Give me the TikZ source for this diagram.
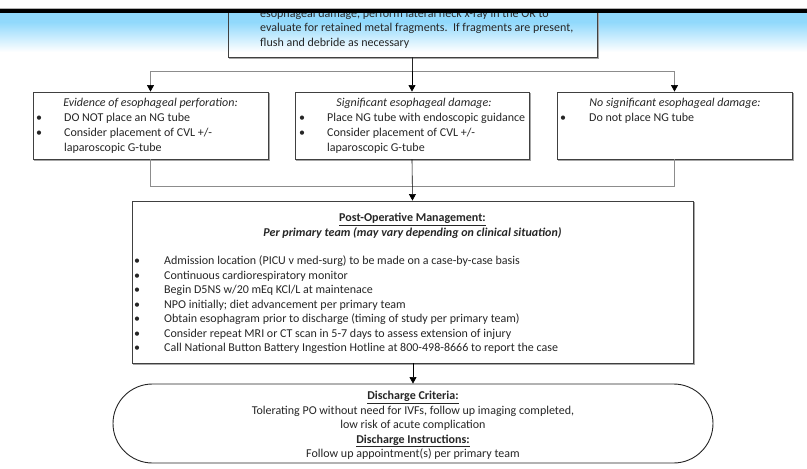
\documentclass[tikz,border=0pt]{standalone}
\usepackage{fontspec}
\setmainfont{Carlito}
\usetikzlibrary{arrows.meta,shapes.misc}
\definecolor{hdrblue}{RGB}{145,217,252}
\begin{document}
\begin{tikzpicture}[x=1pt,y=-1pt,
  boxst/.style={draw=black!75, line width=0.9pt, fill=white, rectangle, inner sep=0pt},
  txt/.style={font=\fontsize{12}{14}\selectfont, text=black!85, inner sep=0pt},
  lnw/.style={txt, anchor=base west},
  lnc/.style={txt, anchor=base},
  arr/.style={-{Triangle[width=7pt,length=6.5pt]}, black, line width=0.6pt},
  conn/.style={draw=black!45, line width=0.7pt},
  shad/.style={draw=black!35, line width=0.8pt}
]
\useasboundingbox (0,0) rectangle (807,469);
\fill[white] (0,0) rectangle (807,469);
% header gradient
\fill[hdrblue] (0,12) rectangle (807,22);
\shade[top color=hdrblue, bottom color=white] (0,22) rectangle (807,52);

% top box
\node[draw=black!75, line width=0.9pt, rectangle, inner sep=0pt, minimum width=369pt, minimum height=77pt] (top) at (412.5,18.5) {};
\draw[shad] ([xshift=1pt,yshift=-1pt]top.south west) -- ([xshift=1pt,yshift=-1pt]top.south east) -- ([xshift=1pt]top.north east);
\node[lnw] (t1) at (260,17) {esophageal damage, perform lateral neck x-ray in the OR to};
\node[lnw] (t2) at (260,31.5) {evaluate for retained metal fragments.\ \ If fragments are present,};
\node[lnw] (t3) at (260,46) {flush and debride as necessary};

% header bars over
\fill[white] (0,0) rectangle (807,8);
\draw[black!30, line width=0.8pt] (0,8.3) -- (807,8.3);
\fill[black] (0,9) rectangle (807,12.5);

% three boxes
\node[boxst, minimum width=235pt, minimum height=67pt] (left) at (150.5,125.5) {};
\node[boxst, minimum width=234pt, minimum height=67pt] (mid) at (412,125.5) {};
\node[boxst, minimum width=235pt, minimum height=67pt] (right) at (674.5,125.5) {};
\foreach \b in {left,mid,right}{
  \draw[shad] ([xshift=1pt,yshift=-1pt]\b.south west) -- ([xshift=1pt,yshift=-1pt]\b.south east) -- ([xshift=1pt,yshift=-1pt]\b.north east);
}

% connectors top
\coordinate (bl) at (150.5,71);
\coordinate (bm) at (412,71);
\coordinate (br) at (674.5,71);
\draw[conn] (bl) -- (br);
\draw[black!85, line width=0.6pt] (top.south -| bm) -- (bm);
\draw[conn] (bl) -- ([yshift=6pt]left.north);
\draw[conn] (br) -- ([yshift=6pt]right.north);
\draw[arr] ([yshift=6.5pt]left.north) -- (left.north);
\draw[arr] ([yshift=6.5pt]right.north) -- (right.north);
\draw[arr] (bm) -- (mid.north);

% left box text
\node[lnc, font=\fontsize{12}{14}\selectfont\itshape] (l0) at (150.5,106) {Evidence of esophageal perforation:};
\node[lnc] (lb1) at (39,121.5) {•};
\node[lnw] (l1) at (64,121.5) {DO NOT place an NG tube};
\node[lnc] (lb2) at (39,136.2) {•};
\node[lnw] (l2) at (64,136.2) {Consider placement of CVL +/-};
\node[lnw] (l3) at (64,151) {laparoscopic G-tube};

% mid box text
\node[lnc, font=\fontsize{12}{14}\selectfont\itshape] (m0) at (414,106) {Significant esophageal damage:};
\node[lnc] (mb1) at (302,121.5) {•};
\node[lnw] (m1) at (327,121.5) {Place NG tube with endoscopic guidance};
\node[lnc] (mb2) at (302,136.2) {•};
\node[lnw] (m2) at (327,136.2) {Consider placement of CVL +/-};
\node[lnw] (m3) at (327,151) {laparoscopic G-tube};

% right box text
\node[lnc, font=\fontsize{12}{14}\selectfont\itshape] (r0) at (675,106) {No significant esophageal damage:};
\node[lnc] (rb1) at (563,121.5) {•};
\node[lnw] (r1) at (589,121.5) {Do not place NG tube};

% post-op box
\node[boxst, minimum width=561pt, minimum height=162pt] (post) at (412.5,282) {};
\draw[shad] ([xshift=1pt,yshift=-1pt]post.south west) -- ([xshift=1pt,yshift=-1pt]post.south east) -- ([xshift=1pt,yshift=-1pt]post.north east);

% merge connectors
\coordinate (ml) at (150.5,186);
\coordinate (mr) at (674.5,186);
\draw[conn] (left.south) -- (ml) -- (mr) -- (right.south);
\draw[arr] (mid.south) -- (post.north);

% post-op text
\node[lnc] (p0) at (412.5,221.5) {\underline{\textbf{Post-Operative Management:}}};
\node[lnc] (p00) at (412.5,236) {\textbf{\textit{Per primary team (may vary depending on clinical situation)}}};
\foreach \i/\t in {0/{Admission location (PICU v med-surg) to be made on a case-by-case basis},
                   1/{Continuous cardiorespiratory monitor},
                   2/{Begin D5NS w/20 mEq KCl/L at maintenace},
                   3/{NPO initially; diet advancement per primary team},
                   4/{Obtain esophagram prior to discharge (timing of study per primary team)},
                   5/{Consider repeat MRI or CT scan in 5-7 days to assess extension of injury},
                   6/{Call National Button Battery Ingestion Hotline at 800-498-8666 to report the case}}{
  \node[lnc] (pb\i) at (137,264.5+14.5*\i) {•};
  \node[lnw] (pi\i) at (164,264.5+14.5*\i) {\t};
}

% discharge
\node[draw=black!85, line width=0.9pt, rounded rectangle, fill=white, inner sep=0pt, minimum width=600pt, minimum height=79pt] (dis) at (413,423.5) {};
\draw[arr] (post.south -| dis.north) -- (dis.north);
\node[lnc] (d1) at (413,399.5) {\underline{\textbf{Discharge Criteria:}}};
\node[lnc] (d2) at (413,414) {Tolerating PO without need for IVFs, follow up imaging completed,};
\node[lnc] (d3) at (413,428.5) {low risk of acute complication};
\node[lnc] (d4) at (413,443) {\underline{\textbf{Discharge Instructions:}}};
\node[lnc] (d5) at (413,457.5) {Follow up appointment(s) per primary team};
\end{tikzpicture}
\end{document}
